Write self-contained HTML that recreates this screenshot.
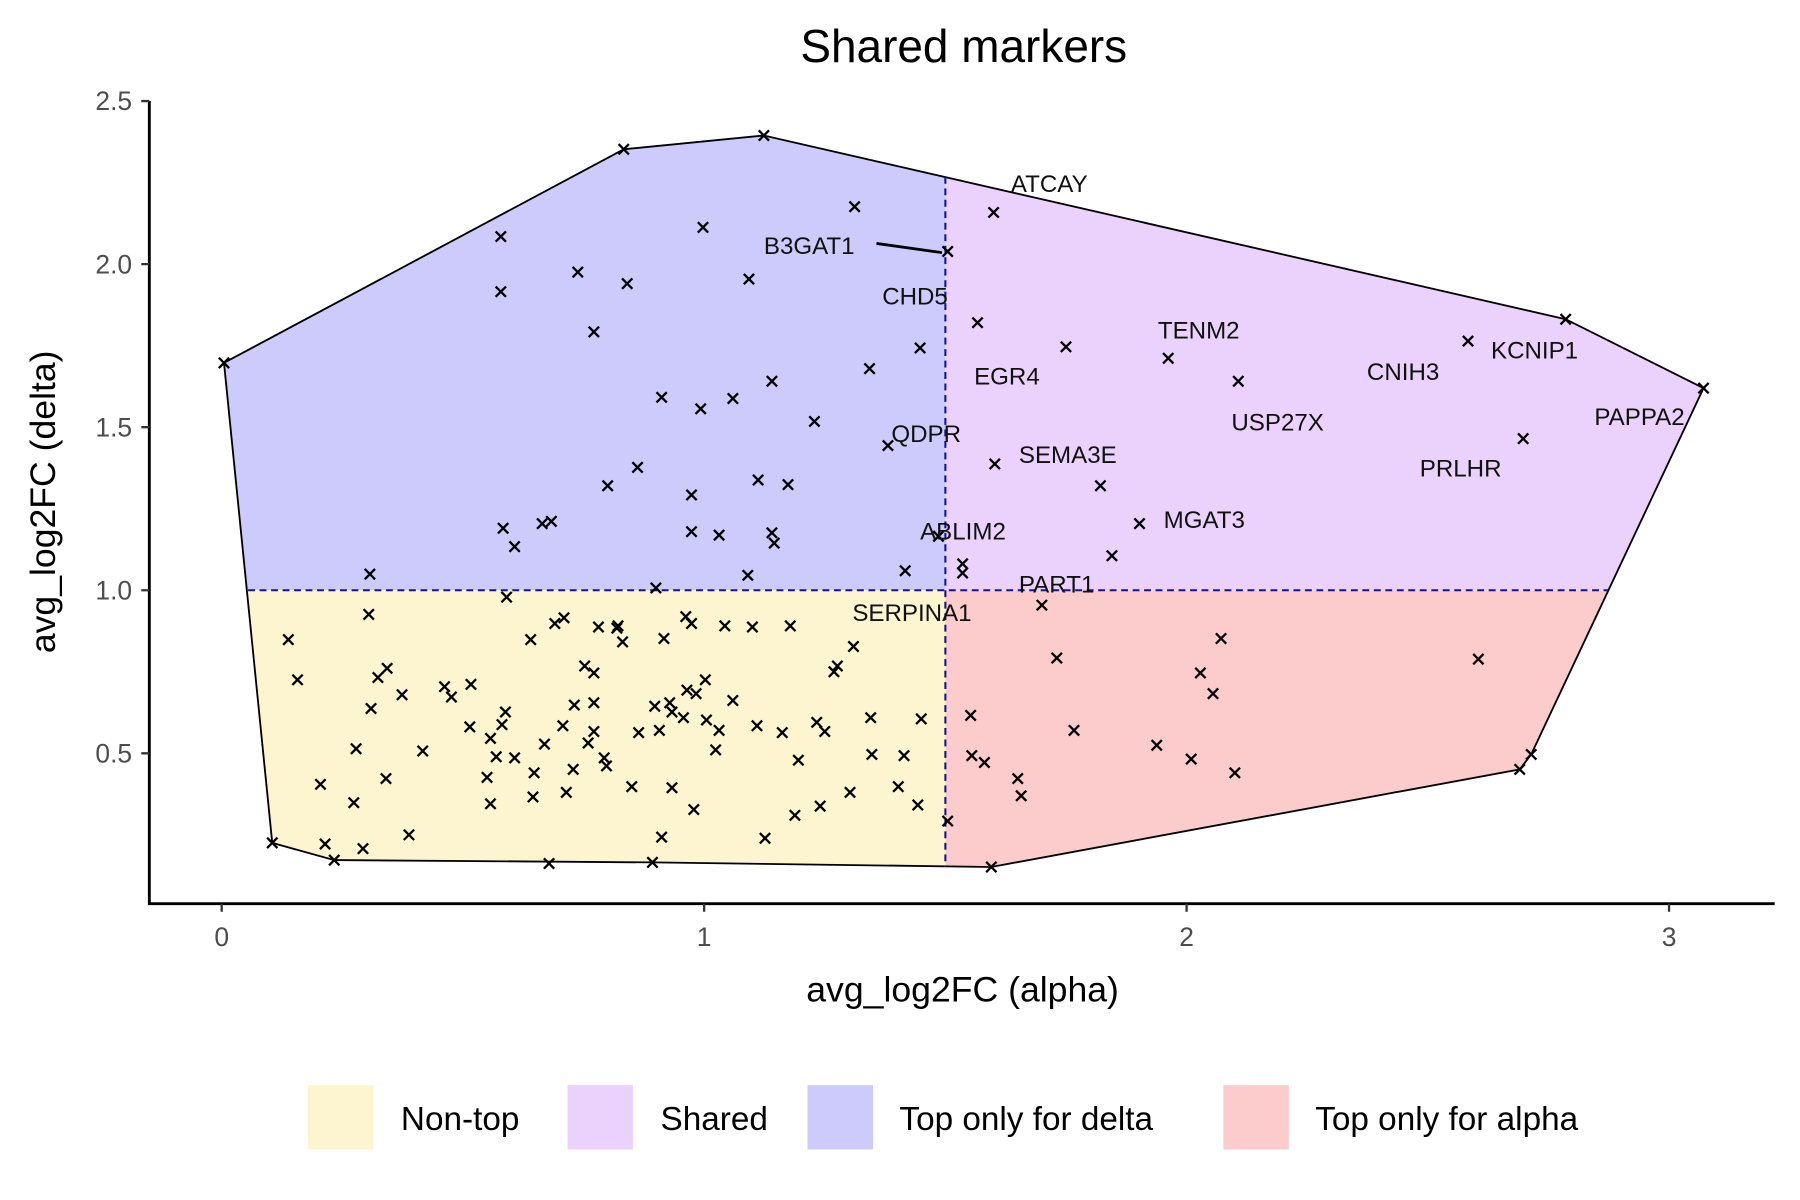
<!DOCTYPE html>
<html><head><meta charset="utf-8"><style>html,body{margin:0;padding:0;background:#fff}svg{display:block}</style></head>
<body>
<svg width="1800" height="1200" viewBox="0 0 1567 1045" preserveAspectRatio="none" xmlns="http://www.w3.org/2000/svg" font-family="Liberation Sans, sans-serif">
<defs>
<clipPath id="hull"><polygon points="195,316 543,130 665,118 1363,278 1483,338 1333,657 1323,670 863,755 568,751 291,749 237,734"/></clipPath>
<g id="x"><path d="M-4.5,-4.5L4.5,4.5M-4.5,4.5L4.5,-4.5" stroke="#000" stroke-width="2"/></g>
</defs>
<g clip-path="url(#hull)">
<rect x="0" y="0" width="823" height="514" fill="#cccbfc"/>
<rect x="823" y="0" width="800" height="514" fill="#ead2fc"/>
<rect x="0" y="514" width="823" height="400" fill="#fcf5cf"/>
<rect x="823" y="514" width="800" height="400" fill="#fccbcb"/>
</g>
<polygon points="195,316 543,130 665,118 1363,278 1483,338 1333,657 1323,670 863,755 568,751 291,749 237,734" fill="none" stroke="#000" stroke-width="1.6"/>
<line x1="216" y1="514" x2="1400" y2="514" stroke="#14148f" stroke-width="1.8" stroke-dasharray="6,4"/>
<line x1="823" y1="154" x2="823" y2="755" stroke="#14148f" stroke-width="1.8" stroke-dasharray="6,4"/>
<g id="pts">
<use href="#x" x="195" y="316"/><use href="#x" x="543" y="130"/><use href="#x" x="665" y="118"/><use href="#x" x="744" y="180"/><use href="#x" x="612" y="198"/><use href="#x" x="436" y="206"/><use href="#x" x="503" y="237"/><use href="#x" x="546" y="247"/><use href="#x" x="652" y="243"/><use href="#x" x="436" y="254"/><use href="#x" x="517" y="289"/><use href="#x" x="825" y="219"/><use href="#x" x="801" y="303"/><use href="#x" x="757" y="321"/><use href="#x" x="672" y="332"/><use href="#x" x="576" y="346"/><use href="#x" x="638" y="347"/><use href="#x" x="610" y="356"/><use href="#x" x="709" y="367"/><use href="#x" x="773" y="388"/><use href="#x" x="555" y="407"/><use href="#x" x="529" y="423"/><use href="#x" x="660" y="418"/><use href="#x" x="686" y="422"/><use href="#x" x="602" y="431"/><use href="#x" x="438" y="460"/><use href="#x" x="448" y="476"/><use href="#x" x="472" y="456"/><use href="#x" x="480" y="454"/><use href="#x" x="602" y="463"/><use href="#x" x="626" y="466"/><use href="#x" x="672" y="464"/><use href="#x" x="674" y="473"/><use href="#x" x="651" y="501"/><use href="#x" x="788" y="497"/><use href="#x" x="322" y="500"/><use href="#x" x="817" y="467"/>
<use href="#x" x="865" y="185"/><use href="#x" x="851" y="281"/><use href="#x" x="928" y="302"/><use href="#x" x="1017" y="312"/><use href="#x" x="1078" y="332"/><use href="#x" x="1278" y="297"/><use href="#x" x="1363" y="278"/><use href="#x" x="1483" y="338"/><use href="#x" x="1326" y="382"/><use href="#x" x="866" y="404"/><use href="#x" x="958" y="423"/><use href="#x" x="992" y="456"/><use href="#x" x="968" y="484"/><use href="#x" x="838" y="491"/><use href="#x" x="838" y="499"/>
<use href="#x" x="441" y="520"/><use href="#x" x="571" y="512"/><use href="#x" x="251" y="557"/><use href="#x" x="259" y="592"/><use href="#x" x="321" y="535"/><use href="#x" x="462" y="557"/><use href="#x" x="483" y="543"/><use href="#x" x="491" y="538"/><use href="#x" x="521" y="546"/><use href="#x" x="537" y="547"/><use href="#x" x="542" y="559"/><use href="#x" x="578" y="556"/><use href="#x" x="597" y="537"/><use href="#x" x="602" y="543"/><use href="#x" x="631" y="545"/><use href="#x" x="655" y="546"/><use href="#x" x="688" y="545"/><use href="#x" x="743" y="563"/><use href="#x" x="729" y="580"/><use href="#x" x="726" y="585"/><use href="#x" x="509" y="580"/><use href="#x" x="517" y="586"/><use href="#x" x="538" y="545"/><use href="#x" x="337" y="582"/><use href="#x" x="329" y="590"/><use href="#x" x="350" y="605"/><use href="#x" x="323" y="617"/><use href="#x" x="387" y="598"/><use href="#x" x="410" y="596"/><use href="#x" x="393" y="607"/><use href="#x" x="310" y="652"/><use href="#x" x="368" y="654"/><use href="#x" x="409" y="633"/><use href="#x" x="427" y="643"/><use href="#x" x="440" y="620"/><use href="#x" x="437" y="631"/><use href="#x" x="448" y="660"/><use href="#x" x="432" y="659"/><use href="#x" x="427" y="700"/><use href="#x" x="424" y="677"/><use href="#x" x="465" y="673"/><use href="#x" x="474" y="648"/><use href="#x" x="490" y="632"/><use href="#x" x="500" y="614"/><use href="#x" x="517" y="612"/><use href="#x" x="517" y="637"/><use href="#x" x="512" y="647"/><use href="#x" x="526" y="660"/><use href="#x" x="528" y="667"/><use href="#x" x="499" y="670"/><use href="#x" x="493" y="690"/><use href="#x" x="464" y="694"/><use href="#x" x="336" y="678"/><use href="#x" x="279" y="683"/><use href="#x" x="308" y="699"/><use href="#x" x="316" y="739"/><use href="#x" x="291" y="749"/><use href="#x" x="283" y="735"/><use href="#x" x="237" y="734"/><use href="#x" x="356" y="727"/><use href="#x" x="478" y="752"/><use href="#x" x="568" y="751"/><use href="#x" x="576" y="729"/><use href="#x" x="585" y="686"/><use href="#x" x="550" y="685"/><use href="#x" x="556" y="638"/><use href="#x" x="574" y="636"/><use href="#x" x="570" y="615"/><use href="#x" x="583" y="612"/><use href="#x" x="598" y="601"/><use href="#x" x="585" y="620"/><use href="#x" x="595" y="625"/><use href="#x" x="606" y="604"/><use href="#x" x="614" y="592"/><use href="#x" x="615" y="627"/><use href="#x" x="623" y="653"/><use href="#x" x="638" y="610"/><use href="#x" x="626" y="636"/><use href="#x" x="659" y="632"/><use href="#x" x="681" y="638"/><use href="#x" x="695" y="662"/><use href="#x" x="711" y="629"/><use href="#x" x="718" y="637"/><use href="#x" x="692" y="710"/><use href="#x" x="666" y="730"/><use href="#x" x="714" y="702"/><use href="#x" x="740" y="690"/><use href="#x" x="782" y="685"/><use href="#x" x="799" y="701"/><use href="#x" x="825" y="715"/><use href="#x" x="758" y="625"/><use href="#x" x="759" y="657"/><use href="#x" x="787" y="658"/><use href="#x" x="802" y="626"/><use href="#x" x="845" y="623"/><use href="#x" x="846" y="658"/><use href="#x" x="857" y="664"/><use href="#x" x="863" y="755"/><use href="#x" x="604" y="705"/>
<use href="#x" x="907" y="527"/><use href="#x" x="920" y="573"/><use href="#x" x="935" y="636"/><use href="#x" x="886" y="678"/><use href="#x" x="889" y="693"/><use href="#x" x="1007" y="649"/><use href="#x" x="1037" y="661"/><use href="#x" x="1045" y="586"/><use href="#x" x="1056" y="604"/><use href="#x" x="1063" y="556"/><use href="#x" x="1075" y="673"/><use href="#x" x="1287" y="574"/><use href="#x" x="1323" y="670"/><use href="#x" x="1333" y="657"/>
</g>
<line x1="763" y1="212" x2="820" y2="220" stroke="#000" stroke-width="2.5"/>
<g font-size="21" fill="#111">
<text x="880" y="167">ATCAY</text><text x="665" y="221">B3GAT1</text><text x="768" y="265">CHD5</text>
<text x="1008" y="295">TENM2</text><text x="848" y="335">EGR4</text><text x="1190" y="331">CNIH3</text>
<text x="1298" y="312">KCNIP1</text><text x="1072" y="375">USP27X</text><text x="1388" y="370">PAPPA2</text>
<text x="776" y="385">QDPR</text><text x="887" y="403">SEMA3E</text><text x="1236" y="415">PRLHR</text>
<text x="1013" y="460">MGAT3</text><text x="801" y="470">ABLIM2</text><text x="887" y="516">PART1</text>
<text x="742" y="541">SERPINA1</text>
</g>
<path d="M130,88V787H1545" fill="none" stroke="#000" stroke-width="2.5"/>
<g stroke="#333" stroke-width="2"><path d="M123,88H130M123,230H130M123,372H130M123,514H130M123,656H130M193,787V794M613,787V794M1033,787V794M1453,787V794"/></g>
<g font-size="23" fill="#4d4d4d" text-anchor="end"><text x="115" y="96">2.5</text><text x="115" y="238">2.0</text><text x="115" y="380">1.5</text><text x="115" y="522">1.0</text><text x="115" y="664">0.5</text></g>
<g font-size="23" fill="#4d4d4d" text-anchor="middle"><text x="193" y="824">0</text><text x="613" y="824">1</text><text x="1033" y="824">2</text><text x="1453" y="824">3</text></g>
<text x="838" y="872" font-size="31" text-anchor="middle">avg_log2FC (alpha)</text>
<text transform="translate(48,437) rotate(-90)" font-size="31" text-anchor="middle">avg_log2FC (delta)</text>
<text x="839" y="54" font-size="40" text-anchor="middle">Shared markers</text>
<rect x="268" y="945" width="57" height="56" fill="#fcf5cf"/><rect x="494" y="945" width="57" height="56" fill="#ead2fc"/>
<rect x="703" y="945" width="57" height="56" fill="#cccbfc"/><rect x="1065" y="945" width="57" height="56" fill="#fccbcb"/>
<g font-size="29"><text x="349" y="984">Non-top</text><text x="575" y="984">Shared</text><text x="783" y="984">Top only for delta</text><text x="1145" y="984">Top only for alpha</text></g>
</svg>
</body></html>
